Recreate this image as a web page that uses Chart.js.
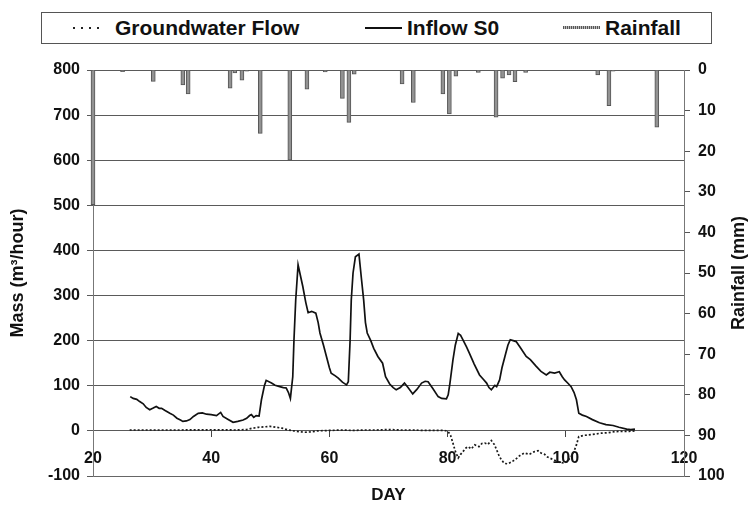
<!DOCTYPE html>
<html>
<head>
<meta charset="utf-8">
<script src="https://cdn.jsdelivr.net/npm/chart.js@4.4.1/dist/chart.umd.min.js"></script>
<style>
  html, body { margin: 0; padding: 0; background: #fff; }
  #wrap { position: relative; width: 750px; height: 510px; }
  #c { position: absolute; left: 0; top: 0; }
  #legend { position: absolute; left: 41px; top: 12px; width: 669px; height: 30px;
            border: 1px solid #555; background: #fff;
            font: bold 21px "Liberation Sans", Arial, sans-serif; color: #111; }
  .ltext { position: absolute; top: 0; height: 30px; line-height: 30px; white-space: nowrap; }
  .lsample { position: absolute; }
</style>
</head>
<body>
<div id="wrap">
  <canvas id="c" width="750" height="510"></canvas>
  <div id="legend"></div>
</div>
<script>
// ---------------- DATA ----------------
const seriesNames = ['Groundwater Flow', 'Inflow S0', 'Rainfall'];

const dayTicks  = [20, 40, 60, 80, 100, 120];
const massTicks = [-100, 0, 100, 200, 300, 400, 500, 600, 700, 800];
const rainTicks = [0, 10, 20, 30, 40, 50, 60, 70, 80, 90, 100];

const inflowDays = [26.3, 26.8, 27.4, 27.9, 28.5, 29.0, 29.6, 30.1, 30.7, 31.2, 31.6, 32.2, 33.0, 33.6, 34.2, 34.8, 35.2, 35.8,
  36.4, 37.0, 37.8, 38.5, 39.2, 40.0, 40.9, 41.6, 42.0, 42.8, 43.7, 44.5, 45.4, 46.0, 46.5, 46.8, 47.2, 47.6, 48.1, 48.5,
  49.0, 49.3, 50.2, 50.8, 51.6, 52.2, 52.7, 53.1, 53.4, 53.8, 54.0, 54.3, 54.7, 55.0, 55.5, 56.0, 56.4, 57.0, 57.7, 58.1,
  58.4, 59.0, 59.5, 60.0, 60.3, 61.0, 61.5, 62.2, 62.9, 63.2, 63.5, 63.7, 64.0, 64.4, 65.0, 65.4, 65.8, 66.1, 66.4, 67.0,
  67.5, 68.2, 69.0, 69.5, 70.2, 70.8, 71.3, 72.0, 72.7, 73.3, 74.1, 74.8, 75.6, 76.2, 76.7, 77.5, 78.4, 79.0, 79.8, 80.1,
  80.4, 80.9, 81.3, 81.8, 82.2, 82.6, 83.2, 83.7, 84.5, 85.4, 86.0, 86.6, 87.0, 87.4, 88.0, 88.3, 88.8, 89.2, 89.7, 90.2,
  90.6, 91.1, 91.6, 92.3, 93.3, 94.0, 95.0, 95.8, 96.7, 97.3, 98.1, 98.9, 99.4, 99.8, 100.4, 100.9, 101.4, 101.8, 102.2,
  102.8, 103.5, 104.5, 105.7, 106.8, 108.0, 109.0, 110.3, 111.0, 111.7];
const inflowValues = [76, 72, 70, 65, 60, 52, 47, 50, 54, 50, 50, 45, 39, 35, 28, 24, 21, 22,
  25, 32, 39, 40, 37, 36, 34, 41, 32, 26, 19, 21, 24, 28, 34, 36, 30, 34, 33, 69,
  100, 112, 106, 101, 98, 96, 95, 84, 72, 120, 200, 290, 368, 350, 320, 285, 262, 265, 261, 240,
  217, 190, 165, 140, 128, 122, 117, 108, 102, 109, 200, 290, 350, 386, 392, 340, 290, 240, 217, 200,
  183, 165, 150, 120, 104, 96, 91, 96, 106, 96, 82, 92, 106, 110, 109, 94, 76, 72, 71, 80,
  106, 157, 190, 216, 212, 202, 186, 172, 148, 124, 115, 106, 96, 91, 101, 98, 113, 140, 165, 190,
  202, 200, 198, 185, 165, 158, 143, 132, 124, 130, 128, 131, 120, 113, 105, 98, 85, 69, 39,
  35, 32, 25, 18, 14, 12, 8, 4, 3, 4];

const gwDays = [26.2, 30, 35, 40, 44, 46, 47, 48, 49, 50, 51, 52, 53, 54, 55, 56, 57, 58, 60, 62, 64, 66, 68, 70,
  72, 74, 76, 78, 79.5, 80.1, 80.5, 80.9, 81.3, 81.8, 82.2, 82.6, 83.1, 83.5, 84.0, 84.6, 85.3, 85.8, 86.3, 86.8,
  87.4, 87.9, 88.3, 88.7, 89.1, 89.6, 90.2, 90.8, 91.4, 92.2, 93.0, 93.8, 94.7, 95.3, 95.8, 96.4, 96.9, 97.6,
  98.3, 99.0, 99.8, 100.4, 100.9, 101.4, 101.8, 102.2, 103.0, 103.8, 105.0, 106.0, 107.2, 108.4, 109.5, 110.7, 111.7];
const gwValues = [2, 2, 2, 2.5, 2, 3, 6, 8, 9, 10, 8, 6, 2, 0, -2, -3, -2, 0, 1, 2, 1, 2, 2, 3,
  2, 2, 1, 1, 1, -1.5, -10, -27, -45, -60, -52, -46, -38, -35, -40, -31, -35, -28, -27, -30,
  -21.5, -30, -42, -55, -64, -72, -73, -69, -64, -55, -49, -52, -46, -44, -49, -52, -58, -62,
  -66, -70, -71.5, -65, -57, -45, -31, -12.6, -10, -9, -7, -5, -4, -1.5, -1, -1, 0];

const rainDays = [20.0, 25.0, 30.2, 35.2, 36.1, 43.2, 44.0, 45.2, 46.0, 48.3, 53.3, 56.2, 59.3, 62.2, 63.3, 64.2,
  72.3, 74.2, 79.2, 80.3, 81.4, 85.2, 88.2, 89.3, 90.4, 91.4, 93.2, 105.4, 107.3, 108.0, 115.4];
const rainMm = [33.2, 0.4, 2.8, 3.7, 5.9, 4.5, 0.7, 2.5, 0.3, 15.6, 22.2, 4.7, 0.5, 7.0, 12.9, 1.0,
  3.4, 8.0, 5.9, 10.8, 1.5, 0.6, 11.6, 2.0, 1.2, 2.9, 0.6, 1.2, 8.8, 0.3, 14.1];

// ---------------- CHART ----------------
const FONT = '"Liberation Sans", Arial, Helvetica, sans-serif';
const toXY = (xs, ys) => xs.map((x, i) => ({ x: x, y: ys[i] }));

const rightTitle = {
  id: 'rightTitle',
  afterDraw(chart) {
    const { ctx, chartArea } = chart;
    const s = chart.scales.y2;
    ctx.save();
    ctx.font = 'bold 18px ' + FONT;
    ctx.fillStyle = '#111';
    ctx.textAlign = 'center';
    ctx.textBaseline = 'middle';
    ctx.translate(s.right - 11, (chartArea.top + chartArea.bottom) / 2);
    ctx.rotate(-Math.PI / 2);
    ctx.fillText('Rainfall (mm)', 0, 0);
    ctx.restore();
  }
};

new Chart(document.getElementById('c'), {
  type: 'line',
  data: {
    datasets: [
      {
        label: seriesNames[0],
        data: toXY(gwDays, gwValues),
        xAxisID: 'x', yAxisID: 'y',
        borderColor: '#1a1a1a', borderWidth: 1.7, borderDash: [2, 2],
        pointRadius: 0, fill: false, tension: 0, order: 2
      },
      {
        label: seriesNames[1],
        data: toXY(inflowDays, inflowValues),
        xAxisID: 'x', yAxisID: 'y',
        borderColor: '#111', borderWidth: 1.7,
        pointRadius: 0, fill: false, tension: 0, order: 1
      },
      {
        type: 'bar',
        label: seriesNames[2],
        data: toXY(rainDays, rainMm),
        xAxisID: 'x', yAxisID: 'y2',
        backgroundColor: '#929292', borderColor: '#555', borderWidth: 1,
        barThickness: 4, clip: false, order: 3
      }
    ]
  },
  options: {
    responsive: false,
    devicePixelRatio: 1,
    animation: false,
    layout: { padding: { left: 0, right: 0, top: 70, bottom: 0 } },
    plugins: { legend: { display: false }, tooltip: { enabled: false } },
    scales: {
      x: {
        type: 'linear', position: 'bottom', offset: false,
        min: dayTicks[0], max: dayTicks[dayTicks.length - 1],
        afterBuildTicks: s => { s.ticks = dayTicks.map(v => ({ value: v })); },
        ticks: { mirror: true, padding: 8, color: '#111', font: { family: FONT, size: 16, weight: 'bold' }, maxRotation: 0 },
        grid: { offset: false, drawOnChartArea: false, drawTicks: false },
        border: { display: true, color: '#666' },
        title: { display: true, text: 'DAY', color: '#111', font: { family: FONT, size: 17, weight: 'bold' }, padding: { top: 0, bottom: 4 } },
        afterFit: s => { s.height = 34; }
      },
      x2: {
        type: 'linear', axis: 'x', position: { y: 0 }, offset: false,
        min: dayTicks[0], max: dayTicks[dayTicks.length - 1],
        afterBuildTicks: s => { s.ticks = dayTicks.map(v => ({ value: v })); },
        ticks: { display: false },
        grid: { offset: false, drawOnChartArea: false, drawTicks: true, tickLength: 6, color: '#444' },
        border: { display: false },
        afterFit: s => { s.height = 0; }
      },
      y: {
        type: 'linear', position: 'left',
        min: massTicks[0], max: massTicks[massTicks.length - 1],
        afterBuildTicks: s => { s.ticks = massTicks.map(v => ({ value: v })); },
        ticks: { padding: 7, color: '#111', font: { family: FONT, size: 16, weight: 'bold' } },
        grid: { color: '#5a5a5a', lineWidth: 1, tickLength: 6 },
        border: { display: true, color: '#777' },
        title: { display: true, text: 'Mass (m³/hour)', color: '#111', font: { family: FONT, size: 18, weight: 'bold' }, padding: { top: 7, bottom: 0 } },
        afterFit: s => { s.width = 93; }
      },
      y2: {
        type: 'linear', position: 'right', reverse: true,
        min: rainTicks[0], max: rainTicks[rainTicks.length - 1],
        afterBuildTicks: s => { s.ticks = rainTicks.map(v => ({ value: v })); },
        ticks: { padding: 8, color: '#111', font: { family: FONT, size: 16, weight: 'bold' } },
        grid: { drawOnChartArea: false, tickLength: 6, color: '#555' },
        border: { display: true, color: '#777' },
        afterFit: s => { s.width = 66; }
      }
    }
  },
  plugins: [rightTitle]
});

// ---------------- HTML LEGEND (series names from data) ----------------
const legend = document.getElementById('legend');
const legendLayout = [
  { sx: 31, sw: 30, tx: 73, style: 'top:14px;height:2px;background:repeating-linear-gradient(90deg,#222 0 2px,transparent 2px 8px);' },
  { sx: 323, sw: 37, tx: 365, style: 'top:14px;height:2px;background:#111;' },
  { sx: 521, sw: 37, tx: 563, style: 'top:13px;height:3px;background:repeating-linear-gradient(90deg,#555 0 1px,#bbb 1px 2px);' }
];
seriesNames.forEach((name, i) => {
  const L = legendLayout[i];
  const s = document.createElement('div');
  s.className = 'lsample';
  s.style.cssText = 'left:' + L.sx + 'px;width:' + L.sw + 'px;' + L.style;
  legend.appendChild(s);
  const t = document.createElement('div');
  t.className = 'ltext';
  t.style.left = L.tx + 'px';
  t.textContent = name;
  legend.appendChild(t);
});
</script>
</body>
</html>
